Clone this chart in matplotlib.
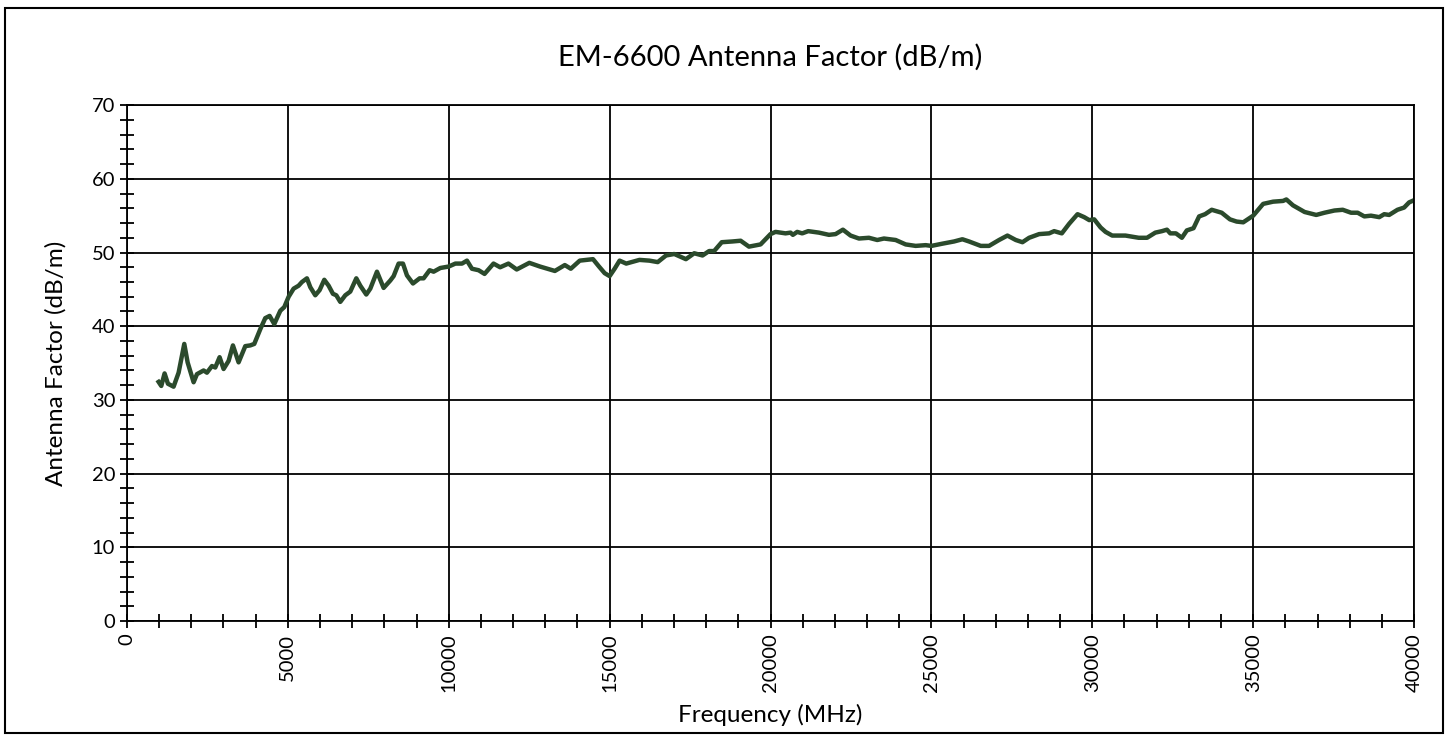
import numpy as np
import matplotlib
matplotlib.use("Agg")
import matplotlib.pyplot as plt
from matplotlib.patches import Rectangle
from matplotlib.ticker import MultipleLocator

plt.rcParams['font.family'] = ['Lato', 'DejaVu Sans']

# Frequency (MHz) and antenna factor (dB/m)
freq = [984, 1067, 1170, 1274, 1450, 1606, 1782, 1886, 2072, 2176, 2383, 2486,
        2642, 2745, 2880, 3004, 3160, 3294, 3470, 3678, 3833, 3957, 4144, 4299,
        4434, 4579, 4766, 4890, 5025, 5180, 5335, 5439, 5594, 5698, 5853, 5988,
        6133, 6268, 6402, 6506, 6630, 6786, 6941, 7128, 7252, 7438, 7563, 7770,
        7977, 8184, 8288, 8443, 8578, 8702, 8889, 9096, 9220, 9407, 9531, 9738,
        10000, 10206, 10412, 10567, 10722, 10928, 11113, 11392, 11598, 11856,
        12113, 12505, 12835, 13299, 13608, 13794, 14072, 14484, 14670, 14846,
        15000, 15155, 15310, 15516, 15928, 16237, 16495, 16753, 17010, 17371,
        17629, 17887, 18093, 18248, 18485, 18815, 19072, 19330, 19691, 20000,
        20156, 20467, 20622, 20695, 20830, 20985, 21172, 21504, 21815, 22022,
        22250, 22489, 22748, 23059, 23318, 23526, 23889, 24200, 24511, 24822,
        25000, 25341, 25704, 25963, 26170, 26533, 26792, 27103, 27363, 27622,
        27830, 28037, 28348, 28659, 28815, 29053, 29281, 29541, 29749, 29904,
        30060, 30258, 30412, 30619, 31031, 31443, 31701, 31959, 32165, 32320,
        32423, 32598, 32784, 32938, 33145, 33320, 33505, 33711, 34021, 34278,
        34485, 34691, 35000, 35310, 35619, 35928, 36031, 36237, 36598, 36959,
        37216, 37526, 37783, 38041, 38247, 38454, 38660, 38917, 39072, 39226,
        39484, 39690, 39845, 39948]
factor = [32.45, 31.9, 33.6, 32.2, 31.8, 33.7, 37.6, 35.1, 32.4, 33.5, 34.0, 33.7,
          34.6, 34.4, 35.8, 34.2, 35.3, 37.4, 35.1, 37.3, 37.4, 37.6, 39.6, 41.1,
          41.4, 40.3, 42.1, 42.6, 44.0, 45.1, 45.5, 46.0, 46.5, 45.3, 44.2, 44.9,
          46.3, 45.5, 44.4, 44.2, 43.3, 44.2, 44.7, 46.5, 45.5, 44.3, 45.1, 47.4,
          45.2, 46.2, 46.8, 48.5, 48.5, 46.9, 45.8, 46.5, 46.5, 47.6, 47.4, 47.9,
          48.1, 48.5, 48.5, 48.9, 47.8, 47.6, 47.1, 48.5, 48.0, 48.5,
          47.7, 48.6, 48.1, 47.5, 48.3, 47.8, 48.9, 49.1, 48.1, 47.2,
          46.8, 47.8, 48.9, 48.5, 49.0, 48.9, 48.7, 49.6, 49.8, 49.1,
          49.9, 49.6, 50.2, 50.2, 51.4, 51.5, 51.6, 50.8, 51.1, 52.5,
          52.8, 52.6, 52.7, 52.4, 52.8, 52.6, 52.9, 52.7, 52.4, 52.5,
          53.1, 52.3, 51.9, 52.0, 51.7, 51.9, 51.7, 51.1, 50.9, 51.0,
          50.9, 51.2, 51.5, 51.8, 51.5, 50.9, 50.9, 51.7, 52.3, 51.7,
          51.4, 52.0, 52.5, 52.6, 52.9, 52.6, 53.9, 55.2, 54.8, 54.4,
          54.5, 53.4, 52.8, 52.3, 52.3, 52.0, 52.0, 52.7, 52.9, 53.1,
          52.6, 52.6, 52.0, 53.0, 53.3, 54.9, 55.2, 55.8, 55.4, 54.5,
          54.2, 54.1, 55.0, 56.6, 56.9, 57.0, 57.2, 56.4, 55.5, 55.1,
          55.4, 55.7, 55.8, 55.4, 55.4, 54.9, 55.0, 54.8, 55.2, 55.1,
          55.8, 56.1, 56.8, 57.0]

fig = plt.figure(figsize=(14.49, 7.35), dpi=100)
ax = fig.add_axes([0.0876, 0.155, 0.9759 - 0.0876, 0.857 - 0.155])

ax.plot(freq, factor, color='#2b4a2c', linewidth=3.2, solid_joinstyle='round')

ax.set_xlim(0, 40000)
ax.set_ylim(0, 70)
ax.xaxis.set_major_locator(MultipleLocator(5000))
ax.xaxis.set_minor_locator(MultipleLocator(1000))
ax.yaxis.set_major_locator(MultipleLocator(10))
ax.yaxis.set_minor_locator(MultipleLocator(2))
ax.grid(True, which='major', color='black', linewidth=1.3)
ax.tick_params(which='both', direction='inout', color='black', width=1.3,
               labelsize=14.5, length=10)
ax.tick_params(axis='x', labelrotation=90, pad=4)
for s in ax.spines.values():
    s.set_linewidth(1.3)
ax.set_axisbelow(True)

ax.set_title('EM-6600 Antenna Factor (dB/m)', fontsize=21, pad=28)
ax.set_xlabel('Frequency (MHz)', fontsize=17.5, labelpad=8)
ax.set_ylabel('Antenna Factor (dB/m)', fontsize=17.5, labelpad=18)

fig.patches.append(Rectangle((5 / 1449, 1 - 733 / 735), 1438 / 1449, 725 / 735,
                             transform=fig.transFigure, fill=False,
                             edgecolor='black', linewidth=1.5))

fig.savefig('out.png', dpi=100)
